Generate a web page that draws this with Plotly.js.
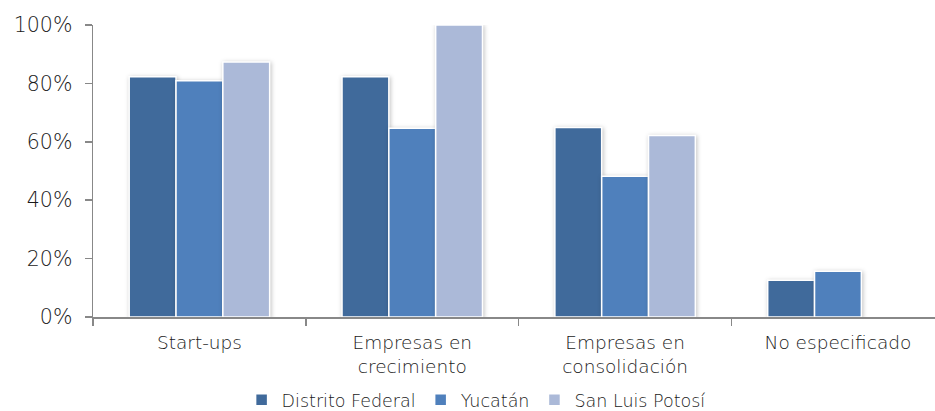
<!DOCTYPE html>
<html>
<head>
<meta charset="utf-8">
<script src="https://cdn.plot.ly/plotly-3.0.1.min.js"></script>
<style>
html,body{margin:0;padding:0;background:#fff;}
#chart{width:935px;height:411px;}
.barlayer .point path{filter:drop-shadow(1px 1px 2px rgba(0,0,0,0.25));}
</style>
</head>
<body>
<div id="chart"></div>
<script>
const categories = ["Start-ups", "Empresas en<br>crecimiento", "Empresas en<br>consolidación", "No especificado"];
const seriesNames = ["Distrito Federal", "Yucatán", "San Luis Potosí"];
const distritoFederal = [0.823, 0.823, 0.649, 0.126];
const yucatan = [0.809, 0.646, 0.482, 0.157];
const sanLuisPotosi = [0.873, 1.0, 0.622, null];
const yTicks = [0, 0.2, 0.4, 0.6, 0.8, 1.0];
const colors = ["#406A9B", "#4F80BC", "#ABB9D8"];

const values = [distritoFederal, yucatan, sanLuisPotosi];
const traces = values.map((v, i) => ({
  type: "bar",
  name: seriesNames[i],
  x: categories,
  y: v,
  marker: {color: colors[i], line: {color: "#ffffff", width: 1.5}},
  hoverinfo: "skip"
}));

const fam = "'DejaVu Sans', sans-serif";
const txt = "#1a1a1a";

const layout = {
  width: 935,
  height: 411,
  margin: {l: 93, r: 0, t: 25, b: 94, autoexpand: false},
  paper_bgcolor: "#fff",
  plot_bgcolor: "#fff",
  barmode: "group",
  bargap: 0.34,
  bargroupgap: 0,
  font: {family: fam, color: txt, weight: 200},
  showlegend: true,
  legend: {
    orientation: "h",
    x: 0.455, xanchor: "center",
    y: -0.222, yanchor: "top",
    font: {size: 17.5, color: txt, family: fam, weight: 200},
    itemwidth: 30,
    traceorder: "normal"
  },
  xaxis: {
    type: "category",
    range: [-0.5, 3.456],
    automargin: false,
    showgrid: false,
    showline: true,
    linecolor: "#888888",
    linewidth: 1.5,
    ticks: "outside",
    tickson: "boundaries",
    ticklen: 7,
    tickcolor: "#888888",
    tickwidth: 1.5,
    ticklabelstandoff: 8,
    tickfont: {size: 18.5, color: txt, family: fam, weight: 200},
    fixedrange: true
  },
  yaxis: {
    range: [0, 1],
    automargin: false,
    tickvals: yTicks,
    tickformat: ".0%",
    showgrid: false,
    zeroline: false,
    showline: true,
    linecolor: "#888888",
    linewidth: 1.5,
    ticks: "outside",
    ticklen: 7,
    tickcolor: "#888888",
    tickwidth: 1.5,
    ticklabelstandoff: 8,
    tickfont: {size: 20.5, color: txt, family: fam, weight: 200},
    fixedrange: true
  }
};

Plotly.newPlot("chart", traces, layout, {displayModeBar: false, staticPlot: true});
</script>
</body>
</html>
